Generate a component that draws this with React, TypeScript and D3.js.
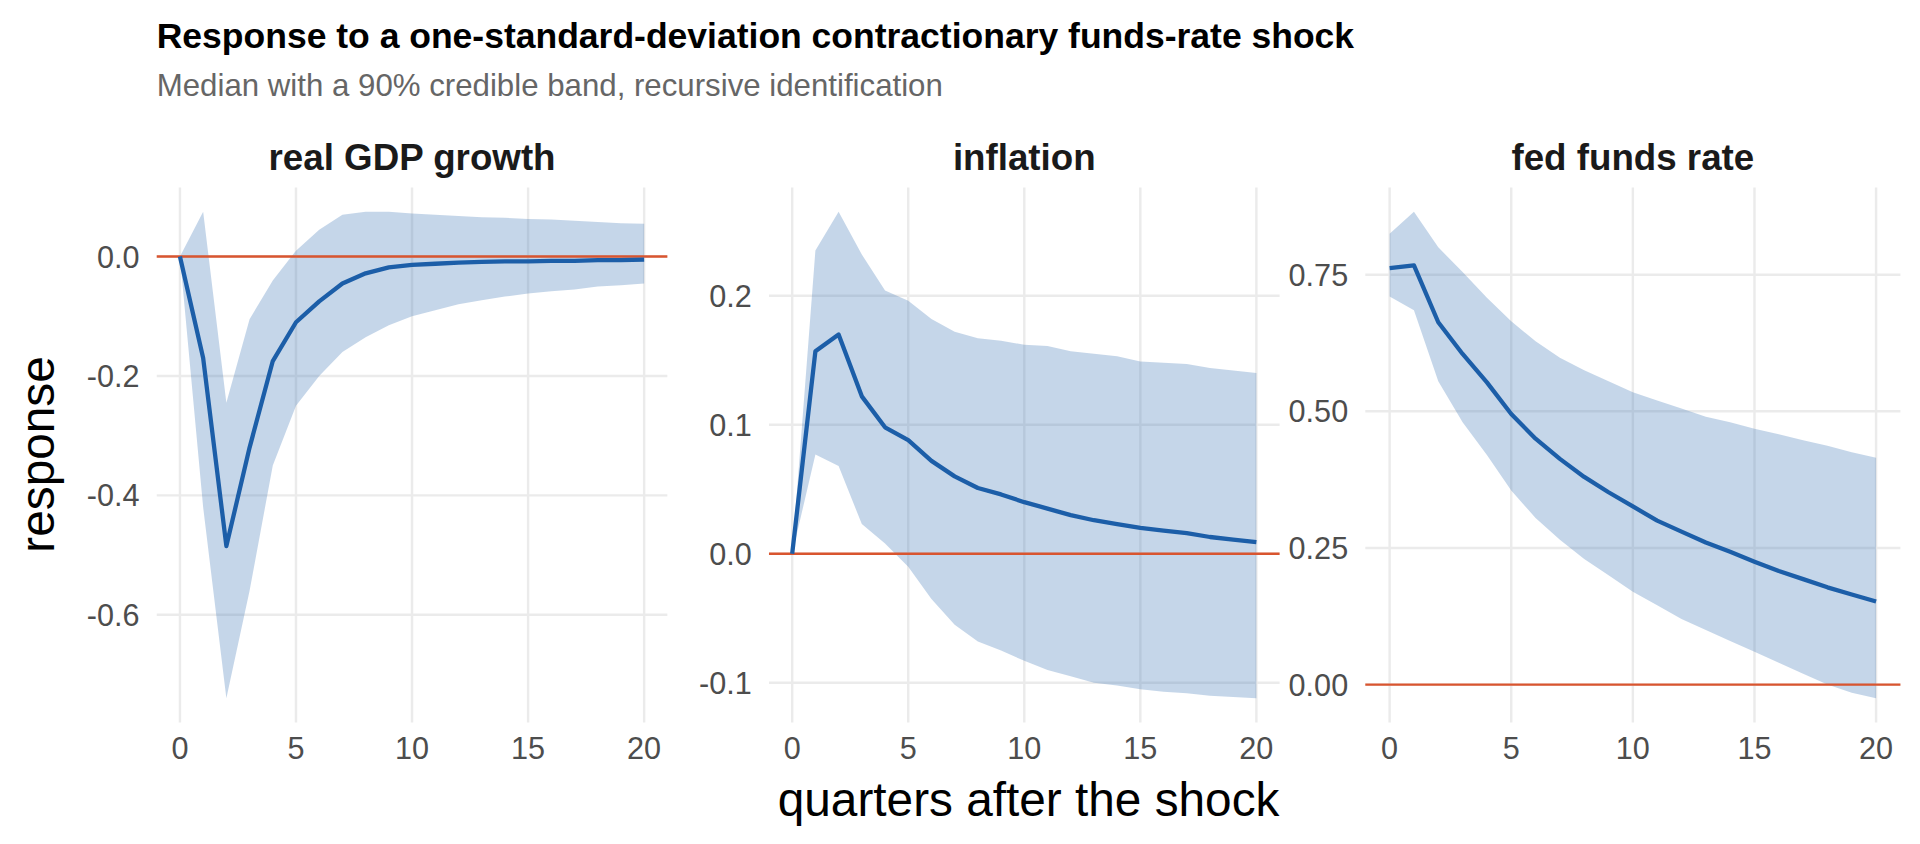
import React from 'react';
import * as d3 from 'd3';

const quarters = d3.range(0, 21);

const gdpMedian = [0, -0.17, -0.485, -0.32, -0.175, -0.11, -0.075, -0.045, -0.028, -0.018, -0.014, -0.012, -0.01, -0.009, -0.008, -0.008, -0.007, -0.007, -0.006, -0.006, -0.005];
const gdpUpper = [0, 0.075, -0.245, -0.105, -0.04, 0.01, 0.045, 0.07, 0.075, 0.075, 0.072, 0.07, 0.068, 0.066, 0.065, 0.063, 0.062, 0.06, 0.058, 0.056, 0.055];
const gdpLower = [0, -0.42, -0.74, -0.56, -0.35, -0.25, -0.2, -0.16, -0.135, -0.115, -0.1, -0.09, -0.08, -0.073, -0.067, -0.062, -0.058, -0.055, -0.05, -0.048, -0.045];

const infMedian = [0, 0.157, 0.17, 0.122, 0.098, 0.088, 0.072, 0.06, 0.051, 0.046, 0.04, 0.035, 0.03, 0.026, 0.023, 0.02, 0.018, 0.016, 0.013, 0.011, 0.009];
const infUpper = [0, 0.235, 0.265, 0.232, 0.204, 0.196, 0.182, 0.172, 0.167, 0.165, 0.162, 0.161, 0.157, 0.155, 0.153, 0.149, 0.148, 0.147, 0.144, 0.142, 0.14];
const infLower = [0, 0.077, 0.068, 0.023, 0.008, -0.01, -0.035, -0.055, -0.068, -0.075, -0.083, -0.09, -0.095, -0.1, -0.102, -0.105, -0.107, -0.108, -0.11, -0.111, -0.112];

const ffrMedian = [0.762, 0.767, 0.663, 0.605, 0.553, 0.495, 0.45, 0.413, 0.38, 0.352, 0.326, 0.3, 0.28, 0.26, 0.243, 0.225, 0.208, 0.193, 0.178, 0.165, 0.152];
const ffrUpper = [0.825, 0.865, 0.8, 0.755, 0.708, 0.665, 0.628, 0.598, 0.575, 0.555, 0.535, 0.52, 0.505, 0.49, 0.48, 0.468, 0.458, 0.447, 0.437, 0.425, 0.415];
const ffrLower = [0.71, 0.685, 0.555, 0.48, 0.42, 0.355, 0.305, 0.265, 0.23, 0.2, 0.17, 0.145, 0.12, 0.1, 0.08, 0.06, 0.04, 0.02, 0.0, -0.015, -0.025];

const xTicks = [0, 5, 10, 15, 20];

const panels = [
  { title: 'real GDP growth', median: gdpMedian, upper: gdpUpper, lower: gdpLower, yTicks: [0, -0.2, -0.4, -0.6], fmt: d3.format('.1f'), x0: 128, x1: 545 },
  { title: 'inflation', median: infMedian, upper: infUpper, lower: infLower, yTicks: [-0.1, 0, 0.1, 0.2], fmt: d3.format('.1f'), x0: 628, x1: 1045 },
  { title: 'fed funds rate', median: ffrMedian, upper: ffrUpper, lower: ffrLower, yTicks: [0, 0.25, 0.5, 0.75], fmt: d3.format('.2f'), x0: 1115, x1: 1552 },
];

const top = 153;
const bottom = 590;
const font = '"Liberation Sans", Arial, sans-serif';

const Panel = ({ p }: { p: typeof panels[number] }) => {
  const x = d3.scaleLinear().domain([-1, 21]).range([p.x0, p.x1]);
  const lo = Math.min(0, d3.min(p.lower)!);
  const hi = Math.max(0, d3.max(p.upper)!);
  const pad = (hi - lo) * 0.05;
  const y = d3.scaleLinear().domain([lo - pad, hi + pad]).range([bottom, top]);
  const area = d3.area<number>().x(i => x(i)).y0(i => y(p.lower[i])).y1(i => y(p.upper[i]));
  const line = d3.line<number>().x(i => x(i)).y(i => y(p.median[i]));
  const fmt = (v: number) => p.fmt(v).replace('−', '-');
  return (
    <g>
      {xTicks.map(t => <line key={'x' + t} x1={x(t)} x2={x(t)} y1={top} y2={bottom} stroke="#ebebeb" strokeWidth={2} />)}
      {p.yTicks.map(t => <line key={'y' + t} x1={p.x0} x2={p.x1} y1={y(t)} y2={y(t)} stroke="#ebebeb" strokeWidth={2} />)}
      <path d={area(quarters)!} fill="#4a7fbb" fillOpacity={0.32} />
      <line x1={p.x0} x2={p.x1} y1={y(0)} y2={y(0)} stroke="#d9552f" strokeWidth={2} />
      <path d={line(quarters)!} fill="none" stroke="#1c5ea8" strokeWidth={3.5} strokeLinejoin="round" />
      {xTicks.map(t => <text key={'xl' + t} x={x(t)} y={bottom + 30} textAnchor="middle" fontSize={25} fill="#4d4d4d">{t}</text>)}
      {p.yTicks.map(t => <text key={'yl' + t} x={p.x0 - 14} y={y(t) + 9} textAnchor="end" fontSize={25} fill="#4d4d4d">{fmt(t)}</text>)}
      <text x={(p.x0 + p.x1) / 2} y={139} textAnchor="middle" fontSize={30} fontWeight="bold" fill="#1a1a1a">{p.title}</text>
    </g>
  );
};

export default function App() {
  return (
    <svg width={1920} height={844} viewBox="0 0 1568 689" style={{ position: 'absolute', left: 0, top: 0, background: '#fff', fontFamily: font }}>
      <rect width={1568} height={689} fill="#fff" />
      <text x={128} y={39} fontSize={29} fontWeight="bold" fill="#000">Response to a one-standard-deviation contractionary funds-rate shock</text>
      <text x={128} y={78} fontSize={25.5} fill="#666">Median with a 90% credible band, recursive identification</text>
      {panels.map(p => <Panel key={p.title} p={p} />)}
      <text transform="translate(44,371) rotate(-90)" textAnchor="middle" fontSize={39} fill="#000">response</text>
      <text x={840} y={666} textAnchor="middle" fontSize={39} fill="#000">quarters after the shock</text>
    </svg>
  );
}
